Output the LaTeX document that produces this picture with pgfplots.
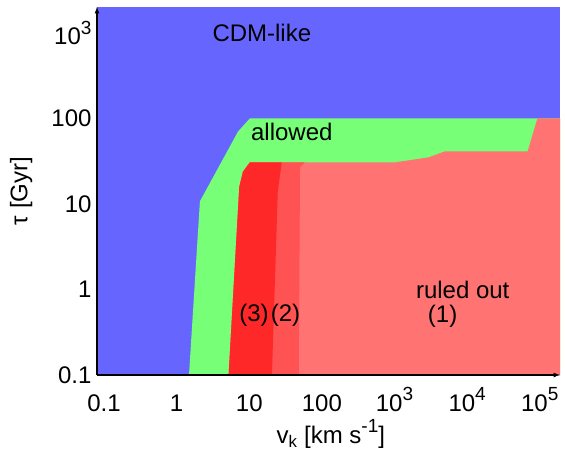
\documentclass[border=0pt]{standalone}
\usepackage{fontspec}
\setmainfont{Liberation Sans}
\usepackage{pgfplots}
\pgfplotsset{compat=1.18}

\definecolor{cdmblue}{RGB}{102,102,255}
\definecolor{okgreen}{RGB}{119,255,119}
\definecolor{red1}{RGB}{255,115,115}
\definecolor{red2}{RGB}{255,82,82}
\definecolor{red3}{RGB}{255,40,40}

\newcommand{\bigfont}{\fontsize{24}{28}\selectfont}
\newcommand{\sups}[1]{\raisebox{10.5pt}{\fontsize{19}{21}\selectfont #1}}

\begin{document}
\begin{tikzpicture}[font=\bigfont]
\useasboundingbox (-97pt,-76pt) rectangle (468pt,375pt);
\begin{axis}[
    at={(0,0)}, anchor=south west,
    scale only axis,
    width=463pt, height=368pt,
    xmode=log, ymode=log,
    xmin=0.08, xmax=1.9e5,
    ymin=0.1, ymax=2000,
    axis lines=left,
    axis line style={line width=1.2pt, -latex},
    axis on top,
    major tick length=0pt, minor tick length=0pt,
    xtick={0.1,1,10,100,1000,10000,100000},
    xticklabels={0.1,1,10,100,10\sups{3},10\sups{4},10\sups{5}},
    ytick={0.1,1,10,100,1000},
    yticklabels={0.1,1,10,100,10\sups{3}},
    tick label style={font=\bigfont},
    label style={font=\bigfont},
    xticklabel style={anchor=base, yshift=-36pt},
    yticklabel style={xshift=-2pt},
    xlabel={v\textsubscript{k} [km s\sups{-1}]},
    ylabel={τ [Gyr]},
    xlabel style={at={(axis description cs:0.505,-0.186)}, anchor=base},
    ylabel style={at={(axis description cs:-0.164,0.5)}, anchor=center},
    axis background/.style={fill=cdmblue},
  ]

  % allowed band
  \addplot[fill=okgreen, draw=none] coordinates {
    (1.48,0.1) (2.09,10.7) (7.0,70) (10.2,100) (2e5,100) (2e5,0.1)
  } -- cycle;

  % ruled out (1)
  \addplot[fill=red1, draw=none] coordinates {
    (5.2,0.1) (7.3,15.9) (8.2,23.8) (10.2,30.5) (1000,30.5) (2950,35)
    (4900,41) (6.8e4,41) (9.3e4,100) (2e5,100) (2e5,0.1)
  } -- cycle;

  % (2)
  \addplot[fill=red2, draw=none] coordinates {
    (5.2,0.1) (7.3,15.9) (8.2,23.8) (10.2,30.5) (58,30.5) (50,27) (48,0.1)
  } -- cycle;

  % (3)
  \addplot[fill=red3, draw=none] coordinates {
    (5.2,0.1) (7.3,15.9) (8.2,23.8) (10.2,30.5) (28,30.5) (24.7,14) (20.5,0.1)
  } -- cycle;

  \node at (axis cs:14.9,1000) {CDM-like};
  \node at (axis cs:38.5,70) {allowed};
  \node at (axis cs:11.6,0.5) {(3)};
  \node at (axis cs:31.6,0.5) {(2)};
  \node at (axis cs:8700,0.98) {ruled out};
  \node at (axis cs:4600,0.49) {(1)};
\end{axis}
\end{tikzpicture}
\end{document}
